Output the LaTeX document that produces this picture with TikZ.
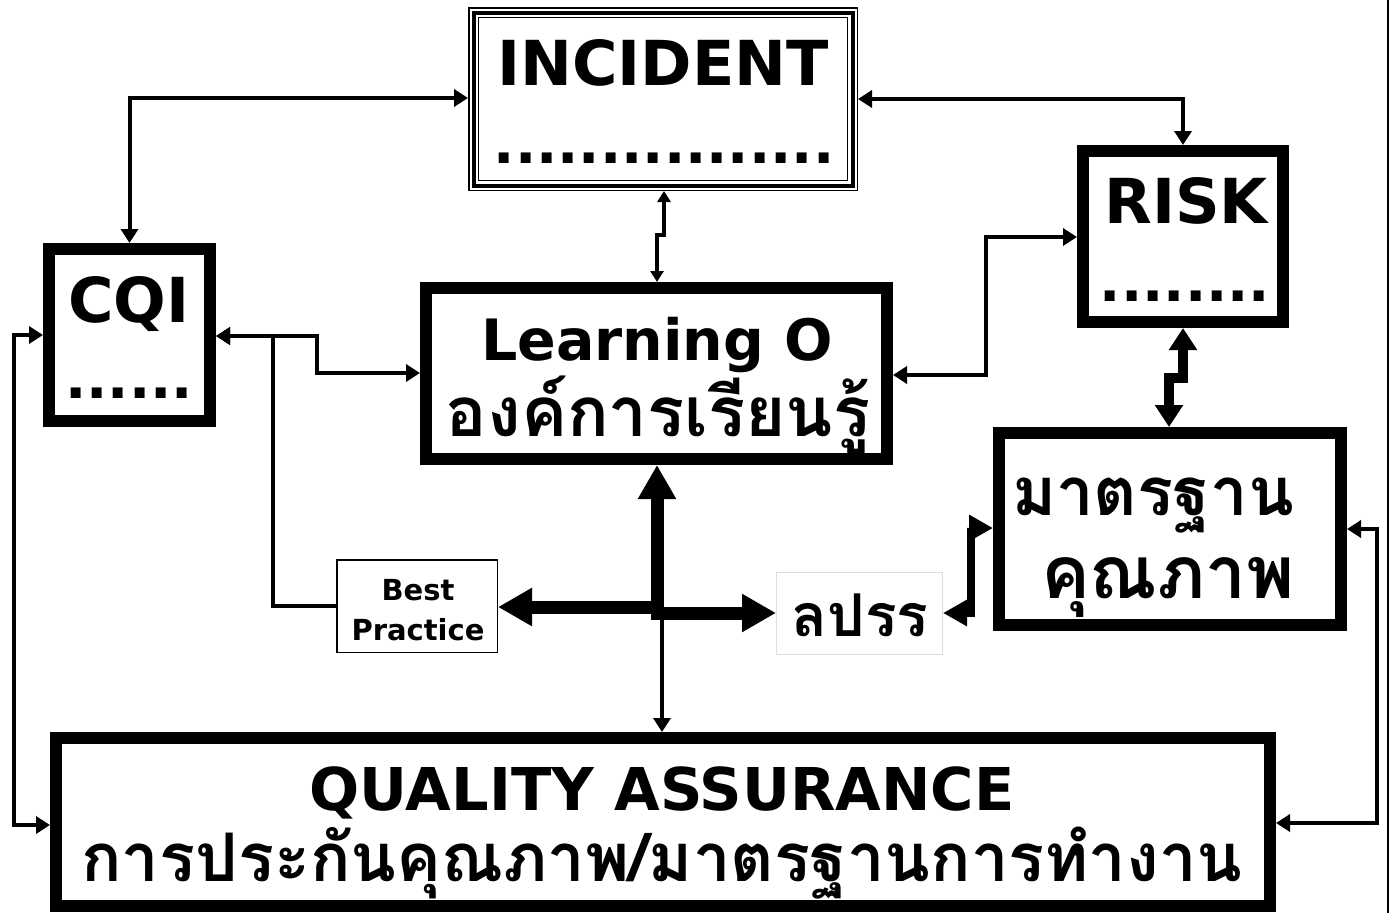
\documentclass[tikz,border=0pt]{standalone}
\usepackage{fontspec}
\setmainfont{DejaVu Sans}
\newfontfamily\thaifont[Script=Thai]{Loma}
\usetikzlibrary{arrows.meta}
\newcommand{\fs}[1]{\fontsize{#1}{#1}\selectfont}
\tikzset{
  box/.style={draw, line width=12pt, fill=white, inner sep=0pt},
  thinbox/.style={draw, line width=1.5pt, fill=white, inner sep=0pt},
  lbl/.style={anchor=base, inner sep=0pt, font=\bfseries},
  conn/.style={line width=4pt, >={Triangle[length=14pt,width=17pt]}},
  smallconn/.style={line width=4pt, >={Triangle[length=11pt,width=13pt]}},
  midconn/.style={line width=8pt, >={Triangle[length=24pt,width=25pt]}},
  bigconn/.style={line width=10pt, >={Triangle[length=22pt,width=27pt]}},
  hubconn/.style={line width=13pt, >={Triangle[length=34pt,width=36pt]}},
}
\begin{document}
\begin{tikzpicture}[x=1pt,y=-1pt]
\useasboundingbox (0,0) rectangle (1391,913);
\fill[white] (0,0) rectangle (1391,913);
\draw[line width=1.5pt] (1388,0) -- (1388,913);

% boxes
\node[thinbox, minimum width=388.5pt, minimum height=182.5pt] (inc) at (663,99) {};
\draw[line width=4pt] ([shift={(5.5,5.5)}]inc.north west) rectangle ([shift={(-5.5,-5.5)}]inc.south east);
\draw[line width=1.8pt] ([shift={(10.5,10.5)}]inc.north west) rectangle ([shift={(-10.5,-10.5)}]inc.south east);
\node[box, minimum width=161pt, minimum height=172pt] (cqi) at (129.5,335) {};
\node[box, minimum width=200pt, minimum height=171pt] (risk) at (1183,236.5) {};
\node[box, minimum width=461pt, minimum height=171pt] (lo) at (656.5,373.5) {};
\node[box, minimum width=342pt, minimum height=192pt] (std) at (1170,529) {};
\node[box, minimum width=1214pt, minimum height=168pt] (qa) at (663,822) {};
\node[thinbox, minimum width=160.5pt, minimum height=92.5pt] (bp) at (417,606) {};
\node[draw=black!13, line width=1pt, fill=white, inner sep=0pt, minimum width=166pt, minimum height=82pt] (lp) at (859.5,613.5) {};

% texts
\node[lbl, font=\bfseries\fs{62}] (tinc) at (663,85) {INCIDENT};
\node[lbl, font=\bfseries\fs{56}] (dinc) at (664,163) {................};
\node[lbl, font=\bfseries\fs{62}] (tcqi) at (129,322) {CQI};
\node[lbl, font=\bfseries\fs{56}] (dcqi) at (129,398) {......};
\node[lbl, font=\bfseries\fs{62}] (trisk) at (1186,223) {RISK};
\node[lbl, font=\bfseries\fs{56}] (drisk) at (1185,301) {........};
\node[lbl, font=\bfseries\fs{57}] (tlo) at (657,360) {Learning O};
\node[lbl, font=\thaifont\bfseries\fs{69}] (tlo2) at (658,436) {องค์การเรียนรู้};
\node[lbl, font=\thaifont\bfseries\fs{67}] (tstd1) at (1153,515) {มาตรฐาน};
\node[lbl, font=\thaifont\bfseries\fs{73}] (tstd2) at (1168,598) {คุณภาพ};
\node[lbl, font=\thaifont\bfseries\fs{59}] (tlp) at (860,636) {ลปรร};
\node[lbl, font=\bfseries\fs{59}] (tqa) at (662,810) {QUALITY ASSURANCE};
\node[lbl, font=\thaifont\bfseries\fs{67}] (tqa2) at (662,881) {การประกันคุณภาพ/มาตรฐานการทำงาน};
\node[lbl, font=\bfseries\fs{29}] (tbp1) at (418,600) {Best};
\node[lbl, font=\bfseries\fs{29}] (tbp2) at (418,640) {Practice};

% connectors
\draw[conn, <->] (inc.west |- 0,98) -| (cqi.north);
\draw[conn, <->] (inc.east |- 0,99) -| (risk.north);
\draw[smallconn, <->] (inc.south -| 664,0) -- (664,235) -- (657,235) -- (lo.north -| 657,0);
\draw[conn, <-] (cqi.east |- 0,336) -| (273,606) -- (bp.west |- 0,606);
\draw[conn, <->] (cqi.east |- 0,336) -| (317,373) -- (lo.west |- 0,373);
\draw[conn, <->] (lo.east |- 0,375) -| (986,237) -- (risk.west |- 0,237);
\draw[bigconn, <->] (risk.south -| 1183,0) -- (1183,378) -- (1169,378) -- (std.north -| 1169,0);
\draw[conn, <->] (cqi.west |- 0,335) -| (14,825) -- (qa.west |- 0,825);
\draw[conn, <->] (std.east |- 0,529) -| (1377,823) -- (qa.east |- 0,823);
\draw[midconn, <->] (lp.east |- 0,613) -| (971,528) -- (std.west |- 0,528);

\coordinate (hub) at (657,607);
\draw[hubconn, ->] (hub) -- (lo.south -| hub);
\draw[hubconn, ->] ([xshift=6pt]hub) -- (bp.east |- hub);
\draw[hubconn, ->] ([shift={(-6,6)}]hub) -- (lp.west |- 0,613);
\draw[conn, ->] ([xshift=5pt]hub) -- (qa.north -| 662,0);
\end{tikzpicture}
\end{document}
